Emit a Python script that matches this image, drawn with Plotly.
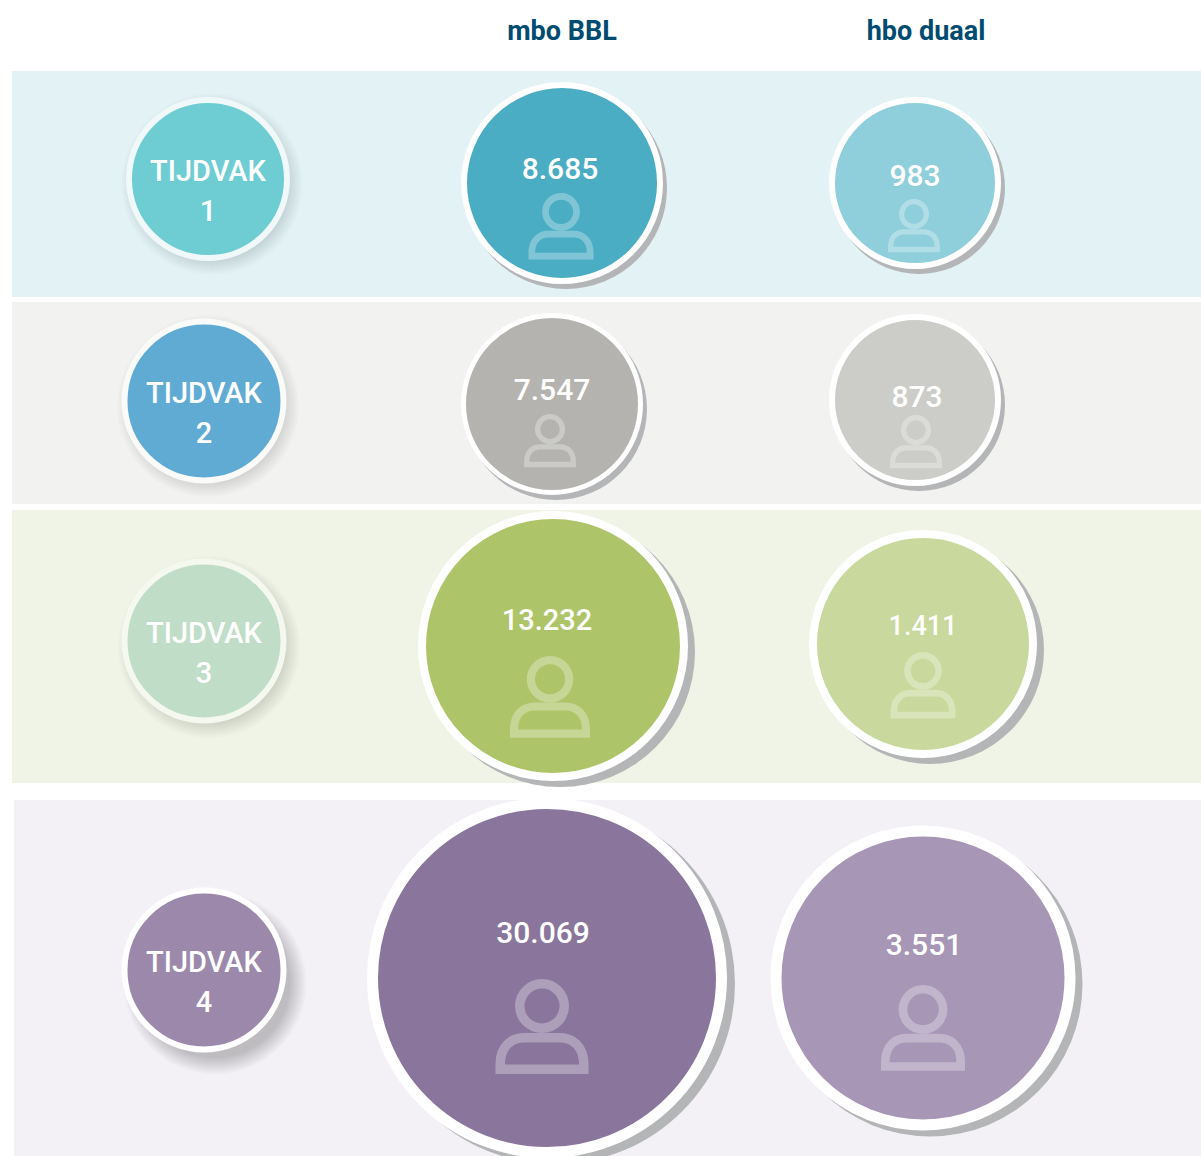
import plotly.graph_objects as go

# ---- data ----
periods = ["TIJDVAK", "TIJDVAK", "TIJDVAK", "TIJDVAK"]
period_numbers = ["1", "2", "3", "4"]
series_names = ["mbo BBL", "hbo duaal"]
mbo_bbl = ["8.685", "7.547", "13.232", "30.069"]
hbo_duaal = ["983", "873", "1.411", "3.551"]

# ---- picture geometry (pixel scale) ----
period_x = [208, 204, 204, 204]
period_y = [179, 401, 641, 970]
period_d = [152, 153, 153, 153]
period_ring = [6, 6, 6, 6]
period_colors = ["#6ECDD2", "#5FABD3", "#C0DDC7", "#9C88AB"]
period_ring_colors = ["#F0F8F9", "#FAFAF9", "#F5F8EF", "#FFFFFF"]
period_shadow_dx = [4, 4, 5, 11]
period_shadow_dy = [5, 5, 6, 13]
period_shadow_alpha = [0.008, 0.008, 0.008, 0.015]

mbo_x = [562, 552, 553, 547]
mbo_y = [183, 404, 646, 978]
mbo_d = [190, 172, 254, 338]
mbo_ring = [6, 5, 8, 11]
mbo_shadow = [(4, 5), (4, 5), (7, 6), (8, 6)]
mbo_colors = ["#4AADC3", "#B4B3AF", "#AEC469", "#8A759C"]

hbo_x = [915, 915, 923, 923]
hbo_y = [183, 400, 644, 978]
hbo_d = [160, 160, 212, 283]
hbo_ring = [6, 6, 8, 11]
hbo_shadow = [(4, 5), (4, 5), (7, 6), (7, 6)]
hbo_colors = ["#8FCEDB", "#CCCDC8", "#C9D89C", "#A796B6"]

mbo_label_y = [171, 392, 623, 935]
hbo_label_y = [178, 399, 628, 947]
mbo_label_x = [560, 552, 547, 543]
hbo_label_x = [915, 917, 923, 924]
mbo_label_size = [30, 30, 29, 30]
hbo_label_size = [30, 30, 27, 30]

mbo_icon_x = [561, 550, 550, 542]
mbo_icon_top = [193, 414, 656, 979]
mbo_icon_w = [65, 52, 80, 93]
hbo_icon_x = [914, 916, 923, 923]
hbo_icon_top = [199, 415, 652, 985]
hbo_icon_w = [52, 52, 65, 84]

band_x0 = [12, 12, 12, 14]
band_y0 = [71, 302, 510, 800]
band_y1 = [297, 504, 783, 1156]
band_colors = ["#E2F2F5", "#F2F2F0", "#F0F4E6", "#F3F1F5"]

header_x = [562, 926]
header_y = [33, 33]

FONT = "Roboto"
WHITE = "#FFFFFF"
ICON = "rgba(255,255,255,0.3)"

fig = go.Figure()
shapes = []
for x0, y0, y1, c in zip(band_x0, band_y0, band_y1, band_colors):
    shapes.append(dict(type="rect", xref="x", yref="y", x0=x0, x1=1201, y0=y0, y1=y1,
                       fillcolor=c, line_width=0, layer="below"))


def icon(cx, top, w):
    u = w / 93
    sw = 9.5 * u
    r = 27 * u - sw / 2
    hy = top + 27 * u
    out = [dict(type="circle", xref="x", yref="y", x0=cx - r, x1=cx + r, y0=hy - r, y1=hy + r,
                line=dict(color=ICON, width=sw), layer="above")]
    L, R = cx - 46.5 * u + sw / 2, cx + 46.5 * u - sw / 2
    T = top + 54 * u + sw / 2
    B = top + 95 * u - sw / 2
    mid = B - 5 * u
    path = (f"M {L:.1f} {B:.1f} L {L:.1f} {mid:.1f} C {L:.1f} {T+8*u:.1f} {cx-30*u:.1f} {T:.1f} {cx-18*u:.1f} {T:.1f} "
            f"L {cx+18*u:.1f} {T:.1f} C {cx+30*u:.1f} {T:.1f} {R:.1f} {T+8*u:.1f} {R:.1f} {mid:.1f} "
            f"L {R:.1f} {B:.1f} Z")
    out.append(dict(type="path", xref="x", yref="y", path=path,
                    line=dict(color=ICON, width=sw), layer="above"))
    return out


for i in range(4):
    shapes += icon(mbo_icon_x[i], mbo_icon_top[i], mbo_icon_w[i])
    shapes += icon(hbo_icon_x[i], hbo_icon_top[i], hbo_icon_w[i])

# soft shadows of the period circles
for grow in range(18, -18, -2):
    fig.add_trace(go.Scatter(
        x=[a + b for a, b in zip(period_x, period_shadow_dx)],
        y=[a + b for a, b in zip(period_y, period_shadow_dy)],
        mode="markers", hoverinfo="skip", showlegend=False,
        marker=dict(size=[d + 2 * r + grow for d, r in zip(period_d, period_ring)], opacity=1,
                    color=[f"rgba(40,40,40,{a})" for a in period_shadow_alpha], line_width=0)))

# period circles
fig.add_trace(go.Scatter(
    x=period_x, y=period_y, mode="markers", hoverinfo="skip", showlegend=False,
    marker=dict(size=[d + r for d, r in zip(period_d, period_ring)], color=period_colors, opacity=1,
                line=dict(color=period_ring_colors, width=period_ring))))
fig.add_trace(go.Scatter(
    x=period_x, y=[y - 5 for y in period_y], mode="text", text=periods, hoverinfo="skip", showlegend=False,
    textfont=dict(family=FONT, size=29, color=WHITE, weight=500)))
fig.add_trace(go.Scatter(
    x=period_x, y=[y + 35 for y in period_y], mode="text", text=period_numbers, hoverinfo="skip", showlegend=False,
    textfont=dict(family=FONT, size=29, color=WHITE, weight=500)))

# value circles
for xs, ys, ds, rings, shadow, colors, lx, ly, vals, sizes, name in [
    (mbo_x, mbo_y, mbo_d, mbo_ring, mbo_shadow, mbo_colors, mbo_label_x, mbo_label_y, mbo_bbl, mbo_label_size, series_names[0]),
    (hbo_x, hbo_y, hbo_d, hbo_ring, hbo_shadow, hbo_colors, hbo_label_x, hbo_label_y, hbo_duaal, hbo_label_size, series_names[1]),
]:
    fig.add_trace(go.Scatter(
        x=[x + s[0] for x, s in zip(xs, shadow)], y=[y + s[1] for y, s in zip(ys, shadow)],
        mode="markers", hoverinfo="skip", showlegend=False,
        marker=dict(size=[d + 2 * r for d, r in zip(ds, rings)], color="#B4B5B7", opacity=1, line_width=0)))
    fig.add_trace(go.Scatter(
        x=xs, y=ys, mode="markers", name=name, hoverinfo="skip", showlegend=False,
        marker=dict(size=[d + r for d, r in zip(ds, rings)], color=colors, opacity=1,
                    line=dict(color=WHITE, width=rings))))
    fig.add_trace(go.Scatter(
        x=lx, y=ly, mode="text", text=vals, hoverinfo="skip", showlegend=False,
        textfont=dict(family=FONT, size=sizes, color=WHITE, weight=500)))

fig.add_trace(go.Scatter(
    x=header_x, y=header_y, mode="text", text=series_names, hoverinfo="skip", showlegend=False,
    textfont=dict(family=FONT, size=27, color="#004B70", weight=700)))

fig.update_layout(
    width=1201, height=1156, margin=dict(l=0, r=0, t=0, b=0),
    paper_bgcolor=WHITE, plot_bgcolor=WHITE, showlegend=False, shapes=shapes,
    xaxis=dict(range=[0, 1201], visible=False, fixedrange=True),
    yaxis=dict(range=[1156, 0], visible=False, fixedrange=True),
)
fig.write_html("out.html", config=dict(displayModeBar=False),
               post_script="document.body.style.margin='0';")
